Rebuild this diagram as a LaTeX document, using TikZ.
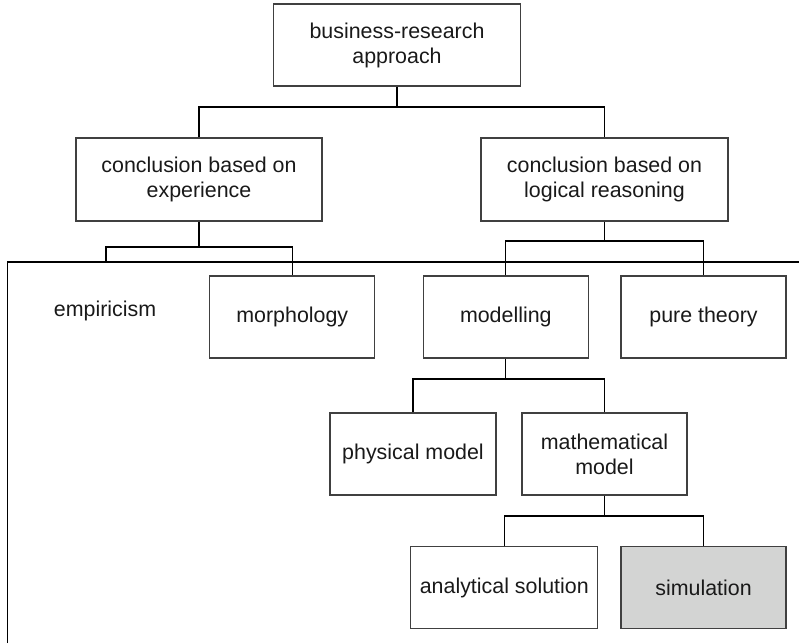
\documentclass[tikz,border=0pt]{standalone}
\usepackage{fontspec}
\setmainfont{Liberation Sans}
\begin{document}
\begin{tikzpicture}[x=1pt,y=-1pt,
  box/.style={draw=black!75,line width=1.1pt,inner sep=0pt,align=center,text=black!90,
    font=\fontsize{21.4}{25}\selectfont},
  conn/.style={draw=black,line width=1.2pt},
  plain/.style={inner sep=0pt,text=black!90,font=\fontsize{21.4}{25}\selectfont}]
\useasboundingbox (0,0) rectangle (799,643);
% nodes
\node[box,minimum width=247pt,minimum height=82pt] (top) at (397,45) {business-research\\approach};
\node[box,minimum width=246pt,minimum height=83pt] (exp) at (199,179.5) {conclusion based on\\experience};
\node[box,minimum width=247pt,minimum height=83pt] (log) at (604.5,179.5) {conclusion based on\\logical reasoning};
\node[plain] (emp) at (105,311) {empiricism};
\node[box,minimum width=165pt,minimum height=82pt] (morph) at (292.3,317) {morphology};
\node[box,minimum width=165pt,minimum height=82pt] (model) at (505.8,317) {modelling};
\node[box,minimum width=165pt,minimum height=82pt] (pure) at (703.5,317) {pure theory};
\node[box,minimum width=166pt,minimum height=82pt] (phys) at (413,454) {physical model};
\node[box,minimum width=165pt,minimum height=82pt] (math) at (604.5,454) {mathematical\\model};
\node[box,minimum width=187pt,minimum height=81.6pt] (ana) at (504.3,587.5) {analytical solution};
\node[box,fill={rgb,255:red,211;green,212;blue,211},minimum width=165pt,minimum height=81.6pt] (sim) at (703.5,587.5) {simulation};
% frame
\coordinate (fA) at (7.3,643);
\coordinate (fB) at (7.3,262);
\coordinate (fC) at (799,262);
\draw[conn] (fA) -- (fB) -- (fC);
% junction levels
\coordinate (j1) at (0,107);
\coordinate (j2) at (0,247);
\coordinate (e1) at (106,262);
\coordinate (j3) at (0,241);
\coordinate (j4) at (0,379);
\coordinate (j5) at (0,516);
\draw[conn] (top.south) -- (top.south |- j1);
\draw[conn] (exp.north) -- (exp.north |- j1) -- (log.north |- j1) -- (log.north);
\draw[conn] (exp.south) -- (exp.south |- j2);
\draw[conn] (e1) -- (e1 |- j2) -- (morph.north |- j2) -- (morph.north);
\draw[conn] (log.south) -- (log.south |- j3);
\draw[conn] (model.north) -- (model.north |- j3) -- (pure.north |- j3) -- (pure.north);
\draw[conn] (model.south) -- (model.south |- j4);
\draw[conn] (phys.north) -- (phys.north |- j4) -- (math.north |- j4) -- (math.north);
\draw[conn] (math.south) -- (math.south |- j5);
\draw[conn] (ana.north) -- (ana.north |- j5) -- (sim.north |- j5) -- (sim.north);
\end{tikzpicture}
\end{document}
